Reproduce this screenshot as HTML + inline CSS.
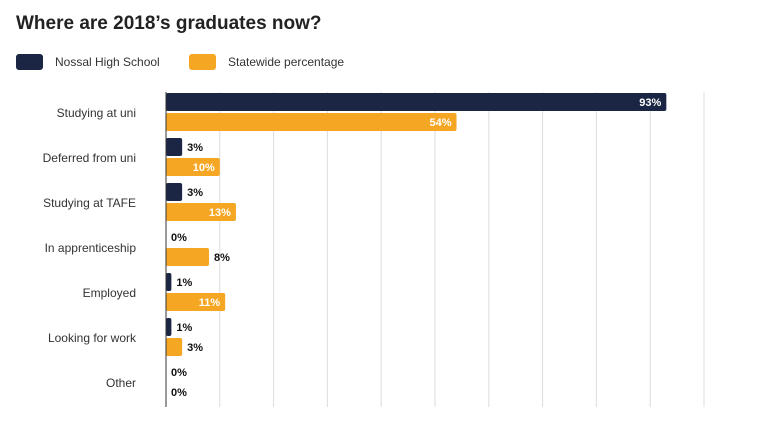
<!DOCTYPE html>
<html><head><meta charset="utf-8"><style>
body{margin:0;background:#fff;width:763px;height:433px;overflow:hidden;font-family:"Liberation Sans",sans-serif}
</style></head><body>
<svg width="763" height="433">
<text x="16" y="29" font-size="19" font-weight="bold" fill="#222">Where are 2018’s graduates now?</text>
<g>
<rect x="16" y="54" width="27" height="16" rx="3" fill="#1b2644"/>
<text x="55" y="66" font-size="12" fill="#333">Nossal High School</text>
<rect x="189" y="54" width="27" height="16" rx="3" fill="#f5a623"/>
<text x="228" y="66" font-size="12" fill="#333">Statewide percentage</text>
</g>
<g id="plot"></g>
</svg>
<script>
const categories=["Studying at uni","Deferred from uni","Studying at TAFE","In apprenticeship","Employed","Looking for work","Other"];
const nossal=[93,3,3,0,1,1,0];
const statewide=[54,10,13,8,11,3,0];
const gridTicks=[10,20,30,40,50,60,70,80,90,100];
const NS="http://www.w3.org/2000/svg";
const plotG=document.getElementById('plot');
const x0=166,pxPer=5.38,plotTop=92,plotBottom=407,rowH=45;
const xs=v=>x0+v*pxPer;
function mk(t,a){const e=document.createElementNS(NS,t);for(const k in a)e.setAttribute(k,a[k]);plotG.appendChild(e);return e;}
gridTicks.forEach(t=>{
const l=mk('line',{x1:xs(t),x2:xs(t),y1:plotTop,y2:plotBottom,stroke:'#ddd','stroke-width':1});


});
categories.forEach((c,i)=>{
const y=plotTop+1+i*rowH;
const lab=mk('text',{x:136,y:y+24,'font-size':12,fill:'#333','text-anchor':'end'});
lab.textContent=c;


[[nossal[i],'#1b2644',y,'nossal'],[statewide[i],'#f5a623',y+20,'statewide']].forEach(([v,col,by,s])=>{
if(v>0){const r=mk('rect',{x:x0,y:by,width:v*pxPer,height:18,rx:2,fill:col});

}
const inside=v>=10;
const t=mk('text',{x:inside?xs(v)-5:xs(v)+5,y:by+13,'font-size':11,'font-weight':'bold',fill:inside?'#fff':'#111','text-anchor':inside?'end':'start'});
t.textContent=v+'%';


});
});
const ax=mk('line',{x1:x0,x2:x0,y1:plotTop,y2:plotBottom,stroke:'#333','stroke-width':1});


</script>
</body></html>
